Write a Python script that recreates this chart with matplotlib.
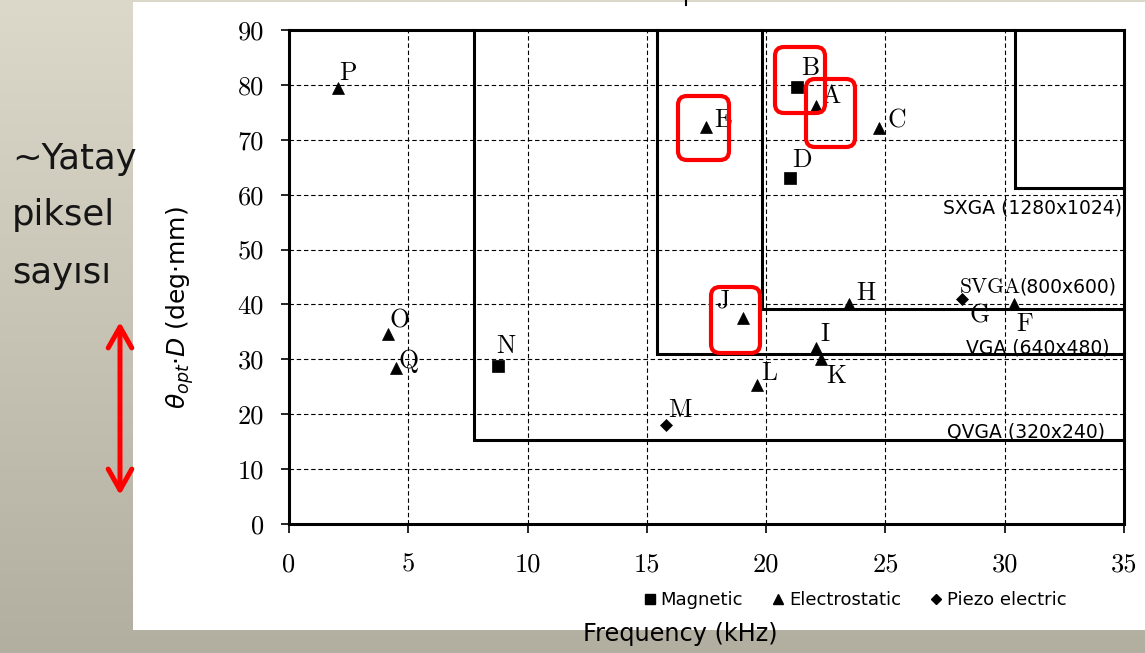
import numpy as np
import matplotlib
matplotlib.use("Agg")
import matplotlib.pyplot as plt
from matplotlib.lines import Line2D
from matplotlib.patches import Rectangle, FancyBboxPatch, FancyArrowPatch

# ---------------- data ----------------
mag_labels = ["B", "D", "N"]
mag_freq = [21.3, 21.0, 8.77]
mag_theta = [79.6, 63.0, 28.7]

elec_labels = ["P", "E", "A", "C", "H", "F", "J", "I", "K", "L", "O", "Q"]
elec_freq = [2.05, 17.48, 22.07, 24.73, 23.48, 30.4, 19.01, 22.09, 22.3, 19.6, 4.14, 4.47]
elec_theta = [79.4, 72.3, 76.2, 72.2, 40.0, 40.0, 37.5, 32.0, 30.0, 25.3, 34.6, 28.5]

piezo_labels = ["G", "M"]
piezo_freq = [28.23, 15.8]
piezo_theta = [41.0, 18.0]

res_names = ["QVGA", "VGA", "SVGA", "SXGA"]
res_pixels = ["(320x240)", "(640x480)", "(800x600)", "(1280x1024)"]
res_freq = [7.75, 15.44, 19.81, 30.43]
res_theta = [15.3, 31.0, 39.2, 61.3]

x_ticks = [0, 5, 10, 15, 20, 25, 30, 35]
y_ticks = [0, 10, 20, 30, 40, 50, 60, 70, 80, 90]

legend_labels = ["Magnetic", "Electrostatic", "Piezo electric"]
side_text = ["~Yatay", "piksel", "sayısı"]

# ---------------- layout / style ----------------
W, H = 1145, 653
SERIF = "cmr10"
SANS = "DejaVu Sans"
plt.rcParams["mathtext.fontset"] = "dejavusans"
plt.rcParams["axes.formatter.use_mathtext"] = True

# label offsets in pixels (dx right, dy down) relative to marker
label_off = {"P": (1, -8), "E": (8, 0), "A": (6, -3), "C": (9, 0), "H": (7, -4),
             "F": (2, 27), "J": (-26, -11), "I": (4, -7), "K": (5, 24), "L": (5, -5),
             "O": (2, -7), "Q": (3, 0), "B": (4, -12), "D": (2, -11), "N": (-2, -13),
             "G": (7, 24), "M": (2, -8)}

fig = plt.figure(figsize=(W / 100, H / 100), dpi=100)

# slide background
bg = fig.add_axes([0, 0, 1, 1], zorder=0)
bg.set_xlim(0, W); bg.set_ylim(H, 0); bg.axis("off")
g = np.linspace(0, 1, 256)[:, None, None]
c_top = np.array([220, 216, 202]) / 255
c_bot = np.array([178, 174, 160]) / 255
img = c_top[None, None, :] * (1 - g) + c_bot[None, None, :] * g
img = np.repeat(img, 4, axis=1)
bg.imshow(img, extent=[0, W, H, 0], aspect="auto", interpolation="bilinear")
bg.add_patch(Rectangle((133, 2), W - 133, 628, facecolor="white", edgecolor="none"))
bg.set_xlim(0, W); bg.set_ylim(H, 0)

# main axes
ax = fig.add_axes([289 / W, 1 - 524 / H, 835 / W, 494 / H], zorder=2)
ax.set_xlim(0, 35)
ax.set_ylim(0, 90)
ax.set_xticks(x_ticks)
ax.set_yticks(y_ticks)
ax.set_xticklabels([str(v) for v in x_ticks], fontfamily=SERIF, fontsize=19)
ax.set_yticklabels([str(v) for v in y_ticks], fontfamily=SERIF, fontsize=19)
ax.tick_params(axis="x", direction="out", length=6.5, width=1.2, pad=14)
ax.tick_params(axis="y", direction="out", length=6, width=1.2, pad=12)
ax.grid(True, color="black", lw=0.8, ls=(0, (4, 2.5)))
ax.set_axisbelow(True)
for s in ax.spines.values():
    s.set_linewidth(2.2)

# resolution regions
for fx, ty in zip(res_freq, res_theta):
    ax.plot([fx, fx, 35], [90, ty, ty], color="black", lw=2.2, clip_on=False, zorder=2,
            solid_joinstyle="miter")

# resolution labels (positions)
res_label_pos = {"QVGA": (34.20, 16.76), "VGA": (34.41, 32.06),
                 "SVGA": (34.70, 43.17), "SXGA": (34.91, 57.59)}
for name, pix in zip(res_names, res_pixels):
    x, y = res_label_pos[name]
    if name == "SVGA":
        ax.text(x, y, pix, ha="right", va="center", fontfamily=SANS, fontsize=13.5, zorder=4)
        ax.text(30.68, y, name, ha="right", va="center", fontfamily=SERIF, fontsize=15.5, zorder=4)
    else:
        ax.text(x, y, name + " " + pix, ha="right", va="center", fontfamily=SANS,
                fontsize=13.5, zorder=4)

# points
ax.plot(mag_freq, mag_theta, ls="none", marker="s", ms=8.2, color="black", mew=0.5, zorder=3)
ax.plot(elec_freq, elec_theta, ls="none", marker="^", ms=8.6, color="black", mew=0.5, zorder=3)
ax.plot(piezo_freq, piezo_theta, ls="none", marker="D", ms=6.0, color="black", mew=0.5, zorder=3)

for labs, xs, ys in [(mag_labels, mag_freq, mag_theta), (elec_labels, elec_freq, elec_theta),
                     (piezo_labels, piezo_freq, piezo_theta)]:
    for lab, x, y in zip(labs, xs, ys):
        dx, dy = label_off[lab]
        ax.annotate(lab, (x, y), xytext=(dx * 0.72, -dy * 0.72), textcoords="offset points",
                    ha="left", va="baseline", fontfamily=SERIF, fontsize=18.5, zorder=4)

# axis labels
ax.set_ylabel(r"$\theta_{opt}$·$D$ (deg·mm)", fontfamily=SANS, fontsize=18, va="center")
ax.yaxis.set_label_coords((180 - 289) / 835, (524 - 308) / 494)
ax.set_xlabel("Frequency (kHz)", fontfamily=SANS, fontsize=17.3, va="center")
ax.xaxis.set_label_coords((680 - 289) / 835, (524 - 634) / 494)

# legend
handles = [Line2D([], [], ls="none", marker="s", ms=7, color="black"),
           Line2D([], [], ls="none", marker="^", ms=7.5, color="black"),
           Line2D([], [], ls="none", marker="D", ms=5, color="black")]
leg = ax.legend(handles, legend_labels, loc="center", bbox_to_anchor=(855 / W, 1 - 600 / H),
                bbox_transform=fig.transFigure, ncol=3, frameon=False, handlelength=0.7,
                handletextpad=0.25, columnspacing=1.6, prop={"family": SANS, "size": 13})

# overlay annotations (slide decorations)
ov = fig.add_axes([0, 0, 1, 1], zorder=10)
ov.set_xlim(0, W); ov.set_ylim(H, 0); ov.axis("off")
ov.patch.set_visible(False)

red_boxes = [(678, 96, 51, 64), (775, 47, 50, 66), (806, 79, 49, 68), (711, 287, 49, 66)]
for x0, y0, w, h in red_boxes:
    ov.add_patch(FancyBboxPatch((x0, y0), w, h, boxstyle="round,pad=0,rounding_size=9",
                                facecolor="none", edgecolor="#ff0000", lw=3))

ov.add_patch(FancyArrowPatch((120, 495), (120, 322),
                             arrowstyle="<->,head_length=1.5,head_width=0.85",
                             mutation_scale=10, color="#ff0000", lw=3.6,
                             shrinkA=0, shrinkB=0))

for txt, yb in zip(side_text, [169, 225, 283]):
    ov.text(12, yb, txt, ha="left", va="baseline", fontfamily=SANS, fontsize=25.5,
            color="#151515")

ov.plot([686, 686], [0, 5], color="black", lw=1.5)

fig.savefig("out.png", dpi=100)
